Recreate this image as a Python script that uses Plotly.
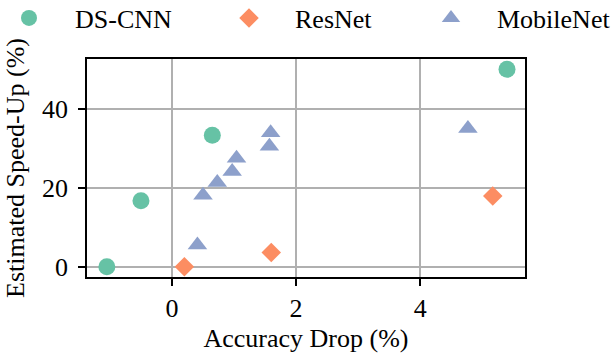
import plotly.graph_objects as go

# Data
dscnn_x = [-1.05, -0.5, 0.65, 5.4]
dscnn_y = [0.0, 16.7, 33.3, 50.0]

resnet_x = [0.2, 1.6, 5.17]
resnet_y = [0.0, 3.6, 17.9]

mobilenet_x = [0.41, 0.5, 0.73, 0.97, 1.04, 1.57, 1.59, 4.77]
mobilenet_y = [5.5, 18.1, 21.3, 24.1, 27.5, 30.5, 33.9, 35.0]

x_ticks = [0, 2, 4]
y_ticks = [0, 20, 40]

FONT = "Liberation Serif"
FS = 26

fig = go.Figure()
fig.add_trace(go.Scatter(x=dscnn_x, y=dscnn_y, mode="markers", name="DS-CNN",
                         marker=dict(symbol="circle", size=17, color="#66c2a5"),
                         legend="legend"))
fig.add_trace(go.Scatter(x=resnet_x, y=resnet_y, mode="markers", name="ResNet",
                         marker=dict(symbol="diamond", size=15, color="#fc8d62"),
                         legend="legend2"))
fig.add_trace(go.Scatter(x=mobilenet_x, y=mobilenet_y, mode="markers", name="MobileNet",
                         marker=dict(symbol="triangle-up", size=17, color="#8da0cb"),
                         legend="legend3"))

L, R, T, B = 87, 88, 59, 76
W, H = 613, 353
PW, PH = W - L - R, H - T - B


def px_x(px):
    return (px - L) / PW


def px_y(py):
    return (H - B - py) / PH


leg_common = dict(orientation="h", yanchor="middle", xanchor="left",
                  xref="paper", yref="paper",
                  font=dict(family=FONT, size=FS, color="black"),
                  bgcolor="rgba(0,0,0,0)", itemwidth=82)

fig.update_layout(
    width=W, height=H,
    margin=dict(l=L, r=R, t=T, b=B, autoexpand=False),
    plot_bgcolor="white", paper_bgcolor="white",
    font=dict(family=FONT, size=FS, color="black"),
    showlegend=True,
    legend=dict(x=px_x(-17), y=px_y(18), **leg_common),
    legend2=dict(x=px_x(203), y=px_y(18), **leg_common),
    legend3=dict(x=px_x(405), y=px_y(18), **leg_common),
    xaxis=dict(
        range=[-1.37, 5.69], tickvals=x_ticks, ticktext=[str(v) for v in x_ticks],
        showgrid=True, gridcolor="#b0b0b0", gridwidth=1.5, automargin=False,
        zeroline=False, showline=True, mirror=True, linecolor="black", linewidth=1.5,
        ticks="outside", ticklen=7, tickwidth=1.5, tickcolor="black",
        tickfont=dict(family=FONT, size=FS, color="black"),
        title=dict(text="Accuracy Drop (%)", standoff=8,
                   font=dict(family=FONT, size=FS, color="black")),
    ),
    yaxis=dict(
        range=[-2.6, 52.6], tickvals=y_ticks, ticktext=[str(v) for v in y_ticks],
        showgrid=True, gridcolor="#b0b0b0", gridwidth=1.5, automargin=False,
        zeroline=False, showline=True, mirror=True, linecolor="black", linewidth=1.5,
        ticks="outside", ticklen=7, tickwidth=1.5, tickcolor="black",
        ticklabelstandoff=5,
        tickfont=dict(family=FONT, size=FS, color="black"),
        title=dict(text="Estimated Speed-Up (%)", standoff=10,
                   font=dict(family=FONT, size=FS, color="black")),
    ),
)

fig.write_html("out.html",
               config={"displayModeBar": False},
               post_script="document.body.style.margin='0';document.body.style.padding='0';")
